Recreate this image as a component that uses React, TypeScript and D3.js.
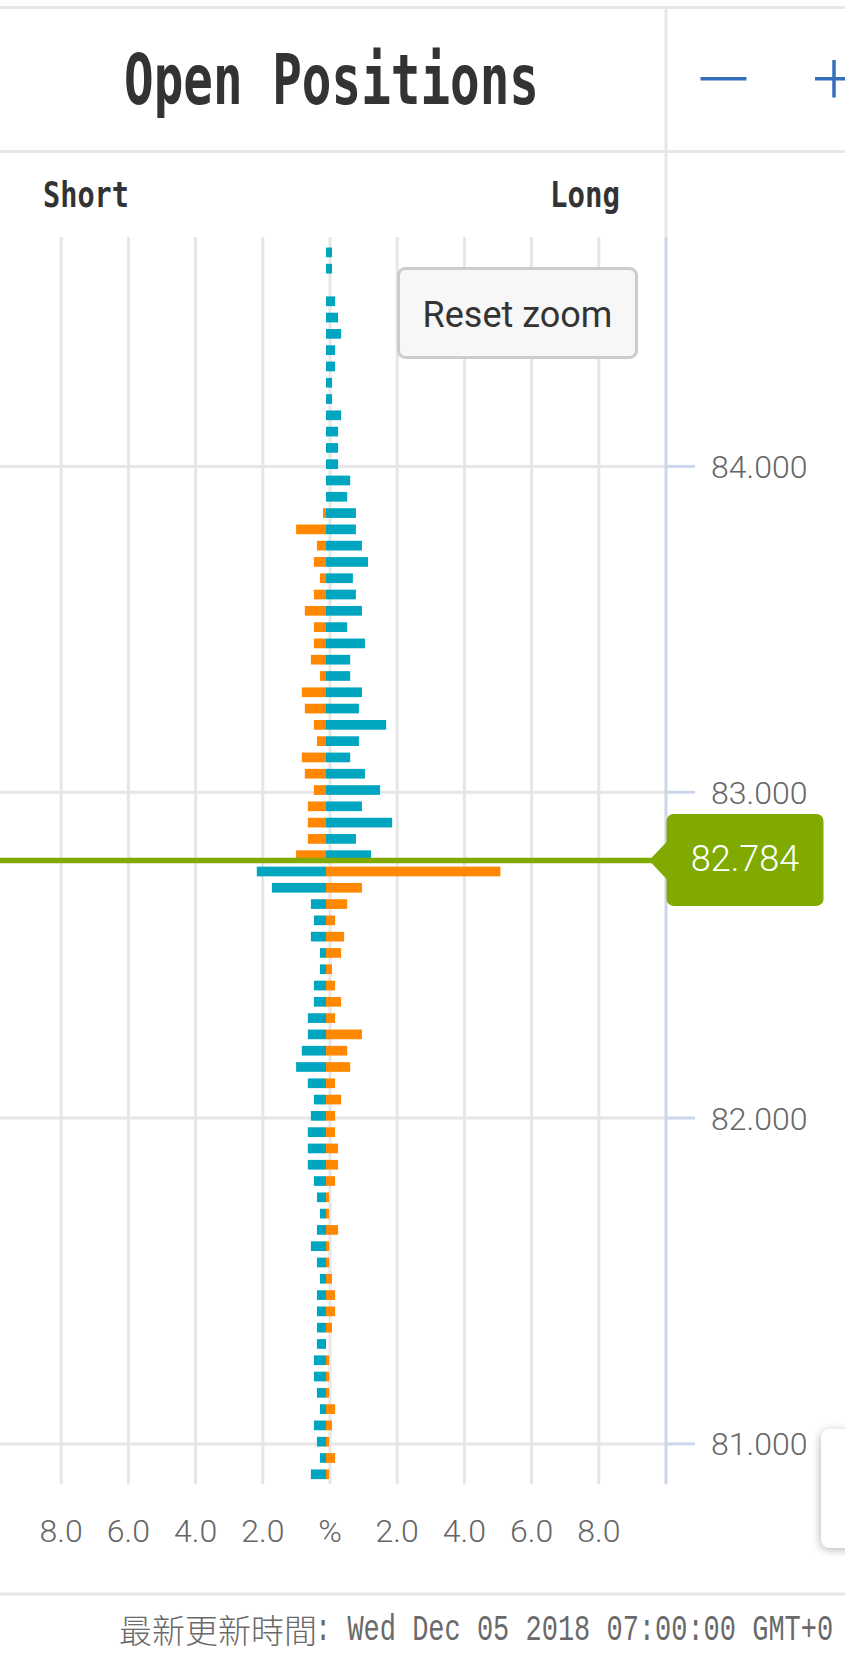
import React from "react";
import * as d3 from "d3";

// price levels (bins of the order book), top to bottom
const priceLevels = [
  84.65, 84.6, 84.55, 84.5, 84.45, 84.4, 84.35, 84.3, 84.25, 84.2, 84.15, 84.1, 84.05, 84.0,
  83.95, 83.9, 83.85, 83.8, 83.75, 83.7, 83.65, 83.6, 83.55, 83.5, 83.45, 83.4, 83.35, 83.3,
  83.25, 83.2, 83.15, 83.1, 83.05, 83.0, 82.95, 82.9, 82.85, 82.8, 82.75, 82.7, 82.65, 82.6,
  82.55, 82.5, 82.45, 82.4, 82.35, 82.3, 82.25, 82.2, 82.15, 82.1, 82.05, 82.0, 81.95, 81.9,
  81.85, 81.8, 81.75, 81.7, 81.65, 81.6, 81.55, 81.5, 81.45, 81.4, 81.35, 81.3, 81.25, 81.2,
  81.15, 81.1, 81.05, 81.0, 80.95, 80.9,
];

// long positions (%), drawn to the right
const longPct = [
  0.18, 0.18, 0, 0.27, 0.36, 0.45, 0.27, 0.27, 0.18, 0.18, 0.45, 0.36, 0.36, 0.36,
  0.72, 0.63, 0.89, 0.89, 1.07, 1.25, 0.8, 0.89, 1.07, 0.63, 1.16, 0.72, 0.72, 1.07,
  0.98, 1.79, 0.98, 0.72, 1.16, 1.61, 1.07, 1.97, 0.89, 1.34, 5.19, 1.07, 0.63, 0.27,
  0.54, 0.45, 0.18, 0.27, 0.45, 0.27, 1.07, 0.63, 0.72, 0.27, 0.45, 0.27, 0.27, 0.36,
  0.36, 0.27, 0.09, 0.09, 0.36, 0.09, 0.09, 0.18, 0.27, 0.27, 0.18, 0, 0.09, 0.09,
  0.09, 0.27, 0.18, 0.09, 0.27, 0.09,
];

// short positions (%), drawn to the left
const shortPct = [
  0, 0, 0, 0, 0, 0, 0, 0, 0, 0, 0, 0, 0, 0,
  0, 0, 0.09, 0.89, 0.27, 0.36, 0.18, 0.36, 0.63, 0.36, 0.36, 0.45, 0.18, 0.72,
  0.63, 0.36, 0.27, 0.72, 0.63, 0.36, 0.54, 0.54, 0.54, 0.89, 2.06, 1.61, 0.45, 0.36,
  0.45, 0.18, 0.18, 0.36, 0.36, 0.54, 0.54, 0.72, 0.89, 0.54, 0.36, 0.45, 0.54, 0.54,
  0.54, 0.36, 0.27, 0.18, 0.27, 0.45, 0.27, 0.18, 0.27, 0.27, 0.27, 0.27, 0.36, 0.36,
  0.27, 0.18, 0.36, 0.27, 0.18, 0.45,
];

const currentPrice = 82.784;
const xTickValues = [-8, -6, -4, -2, 0, 2, 4, 6, 8];
const yTickValues = [81, 82, 83, 84];
const titleText = "Open Positions";
const shortLabel = "Short";
const longLabel = "Long";
const resetLabel = "Reset zoom";
const footerCjk = "最新更新時間";
const footerLatin = ": Wed Dec 05 2018 07:00:00 GMT+0";

const W = 845;
const H = 1653;
const TEAL = "#00a6c0";
const ORANGE = "#ff8800";
const GRID = "#e6e6e6";
const AXIS = "#ccd6eb";
const GREEN = "#80aa00";
const BLUE = "#3470b8";

const plotTop = 237;
const plotBottom = 1484.3;

export default function App() {
  const x = d3.scaleLinear().domain([-10, 10]).range([-6, 666]);
  const barX = d3.scaleLinear().domain([-10, 10]).range([-10, 662]);
  const y = d3.scaleLinear().domain([80.876, 84.704]).range([plotBottom, plotTop]);
  const barShift = -2.2;
  const barH = 9.7;
  const ly = y(currentPrice) + barShift;

  return (
    <svg
      width={W}
      height={H}
      viewBox={`0 0 ${W} ${H}`}
      style={{ position: "absolute", left: 0, top: 0, background: "#fff" }}
    >
      <defs>
        <filter id="sh" x="-50%" y="-20%" width="200%" height="140%">
          <feDropShadow dx="-1" dy="2" stdDeviation="4" floodColor="#000" floodOpacity="0.28" />
        </filter>
      </defs>
      <rect x={0} y={0} width={W} height={H} fill="#fff" />

      {/* header frame */}
      <line x1={0} x2={W} y1={7.5} y2={7.5} stroke={GRID} strokeWidth={3} />
      <line x1={0} x2={W} y1={151.5} y2={151.5} stroke={GRID} strokeWidth={3} />
      <line x1={666} x2={666} y1={9} y2={plotTop} stroke={GRID} strokeWidth={3} />
      <text
        x={124}
        y={104}
        fontFamily="'DejaVu Sans Mono', monospace"
        fontWeight="bold"
        fontSize={70}
        fill="#333"
        textLength={415}
        lengthAdjust="spacingAndGlyphs"
      >
        {titleText}
      </text>
      <line x1={700.5} x2={746.5} y1={78.7} y2={78.7} stroke={BLUE} strokeWidth={3.5} />
      <line x1={815} x2={853} y1={78.7} y2={78.7} stroke={BLUE} strokeWidth={3.5} />
      <line x1={834} x2={834} y1={60} y2={97.5} stroke={BLUE} strokeWidth={3.5} />

      <text
        x={43}
        y={207}
        fontFamily="'DejaVu Sans Mono', monospace"
        fontWeight="bold"
        fontSize={36}
        fill="#333"
        textLength={86}
        lengthAdjust="spacingAndGlyphs"
      >
        {shortLabel}
      </text>
      <text
        x={550}
        y={207}
        fontFamily="'DejaVu Sans Mono', monospace"
        fontWeight="bold"
        fontSize={36}
        fill="#333"
        textLength={70}
        lengthAdjust="spacingAndGlyphs"
      >
        {longLabel}
      </text>

      {/* grid */}
      {xTickValues.map((v) => (
        <line key={"gx" + v} x1={x(v)} x2={x(v)} y1={plotTop} y2={plotBottom} stroke={GRID} strokeWidth={3} />
      ))}
      {yTickValues.map((v) => (
        <line key={"gy" + v} x1={0} x2={x(10)} y1={y(v)} y2={y(v)} stroke={GRID} strokeWidth={3} />
      ))}

      {/* bars */}
      {priceLevels.map((p, i) => {
        const above = p > currentPrice;
        const top = y(p) + barShift - barH / 2;
        const l = longPct[i];
        const s = shortPct[i];
        return (
          <g key={"b" + p}>
            {l > 0 && (
              <rect
                x={barX(0)}
                y={top}
                width={barX(l) - barX(0)}
                height={barH}
                fill={above ? TEAL : ORANGE}
              />
            )}
            {s > 0 && (
              <rect
                x={barX(-s)}
                y={top}
                width={barX(0) - barX(-s)}
                height={barH}
                fill={above ? ORANGE : TEAL}
              />
            )}
          </g>
        );
      })}

      {/* y axis */}
      <line x1={x(10)} x2={x(10)} y1={plotTop} y2={plotBottom} stroke={AXIS} strokeWidth={3} />
      {yTickValues.map((v) => (
        <g key={"yt" + v}>
          <line x1={x(10)} x2={695} y1={y(v)} y2={y(v)} stroke={AXIS} strokeWidth={3} />
          <text
            x={711}
            y={y(v) + 11.5}
            fontFamily="Roboto, sans-serif"
            fontWeight={300}
            fontSize={32}
            fill="#666"
          >
            {v.toFixed(3)}
          </text>
        </g>
      ))}

      {/* x tick labels */}
      {xTickValues.map((v) => (
        <text
          key={"xt" + v}
          x={x(v)}
          y={1542}
          textAnchor="middle"
          fontFamily="Roboto, sans-serif"
          fontWeight={300}
          fontSize={32}
          fill="#666"
        >
          {v === 0 ? "%" : Math.abs(v).toFixed(1)}
        </text>
      ))}

      {/* current price line and label */}
      <line x1={0} x2={652} y1={ly} y2={ly} stroke={GREEN} strokeWidth={5.5} />
      <path d={`M649,${ly} L668,${ly - 20} L668,${ly + 20} Z`} fill={GREEN} />
      <rect x={666.5} y={ly - 46.5} width={157} height={92} rx={7} fill={GREEN} />
      <text
        x={745}
        y={ly + 11}
        textAnchor="middle"
        fontFamily="Roboto, sans-serif"
        fontWeight={300}
        fontSize={36}
        fill="#fff"
      >
        {currentPrice.toFixed(3)}
      </text>

      {/* reset zoom button */}
      <rect x={398.5} y={268.5} width={238} height={89} rx={7} fill="#f7f7f7" stroke="#cccccc" strokeWidth={3} />
      <text
        x={517.5}
        y={327}
        textAnchor="middle"
        fontFamily="Roboto, sans-serif"
        fontSize={36}
        fill="#333"
      >
        {resetLabel}
      </text>

      {/* partial panel at bottom right */}
      <rect x={821} y={1429} width={60} height={119} rx={9} fill="#fff" filter="url(#sh)" />

      {/* footer */}
      <line x1={0} x2={W} y1={1594} y2={1594} stroke={GRID} strokeWidth={3} />
      <text
        x={119}
        y={1643}
        fontFamily="'Noto Sans CJK TC', sans-serif"
        fontWeight={300}
        fontSize={33}
        fill="#6a6a6a"
      >
        {footerCjk}
      </text>
      <text
        transform="translate(315,1640) scale(1,1.38)"
        x={0}
        y={0}
        fontFamily="'Liberation Mono', monospace"
        fontSize={27}
        fill="#6a6a6a"
      >
        {footerLatin}
      </text>
    </svg>
  );
}
